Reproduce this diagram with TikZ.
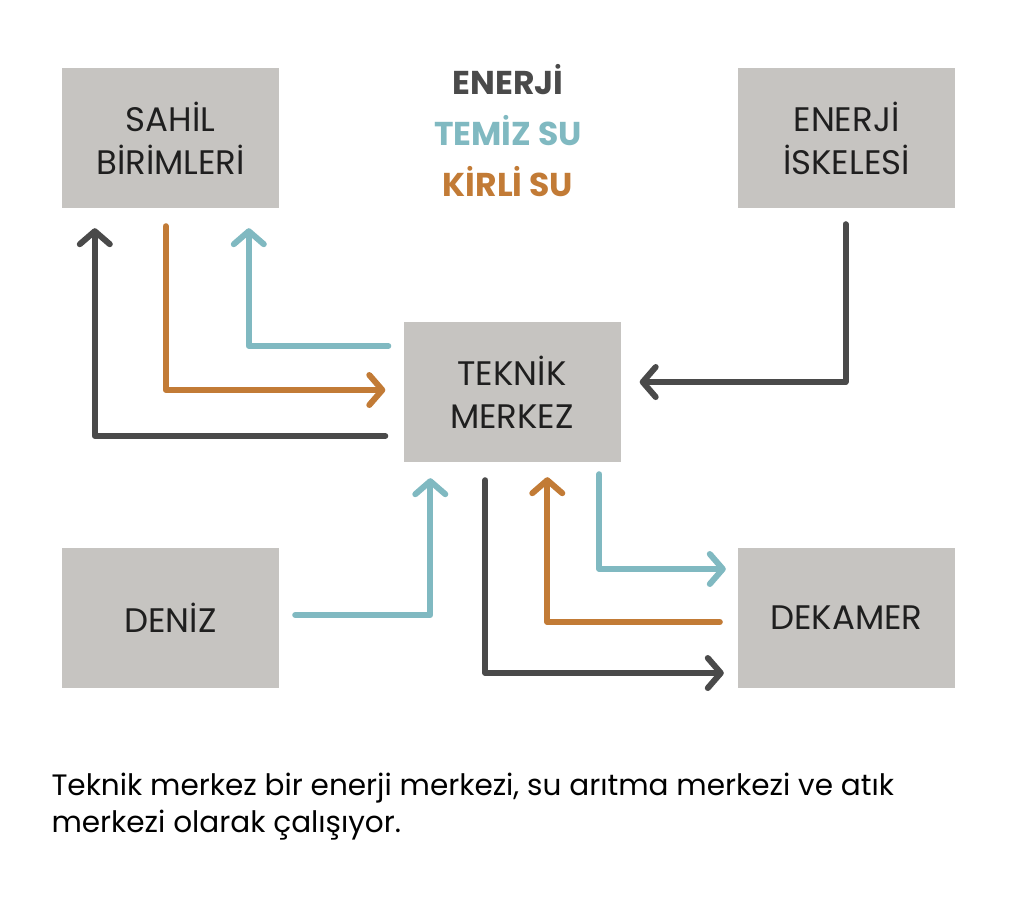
\documentclass[tikz,border=0pt]{standalone}
\usepackage{fontspec}
\setmainfont{Poppins}
\usetikzlibrary{arrows.meta}
\definecolor{boxgray}{HTML}{C6C4C1}
\definecolor{energydark}{HTML}{4A4A4A}
\definecolor{cleanteal}{HTML}{80B9C1}
\definecolor{dirtyorange}{HTML}{C27B36}
\tikzset{
  box/.style={fill=boxgray, minimum width=217pt, minimum height=140pt, inner sep=0pt, align=center, text=black!88, font=\fontsize{34}{43}\selectfont},
  flow/.style={line width=6pt, line cap=round, line join=round, -{Straight Barb[length=13pt,width=30pt,round]}},
  energyline/.style={flow, draw=energydark},
  cleanline/.style={flow, draw=cleanteal},
  dirtyline/.style={flow, draw=dirtyorange}
}
\begin{document}
\begin{tikzpicture}[x=1pt, y=-1pt]
        \useasboundingbox (0,0) rectangle (1024,903);

        % Kutular
        \node[box] (sahil) at (170.5,138) {SAHİL\\BİRİMLERİ};
        \node[box] (iskele) at (846.5,138) {ENERJİ\\İSKELESİ};
        \node[box] (teknik) at (512,392) {TEKNİK\\MERKEZ};
        \node[box] (deniz) at (170.5,618) {DENİZ};
        \node[box] (dekamer) at (846.5,618) {DEKAMER};

        % Lejant
        \node[align=center, font=\bfseries\fontsize{33}{51}\selectfont] (legend) at (508,131) {
            \textcolor{energydark}{ENERJİ}\\
            \textcolor{cleanteal}{TEMİZ SU}\\
            \textcolor{dirtyorange}{KİRLİ SU}
        };

        % Açıklama
        \node[anchor=base west, align=left, font=\fontsize{29.5}{37}\selectfont] (caption) at (48,832) {
            Teknik merkez bir enerji merkezi, su arıtma merkezi ve atık\\
            merkezi olarak çalışıyor.
        };

        % Oklar
        \draw[energyline] ([shift={(-18,44)}]teknik.west) -| ([shift={(33,20)}]sahil.south west);
        \draw[dirtyline] ([shift={(104,18)}]sahil.south west) |- ([shift={(-18,-2)}]teknik.west);
        \draw[cleanline] ([shift={(-15,-46)}]teknik.west) -| ([shift={(187,20)}]sahil.south west);
        \draw[energyline] ([shift={(-1,16)}]iskele.south) |- ([shift={(19,-10)}]teknik.east);
        \draw[cleanline] ([shift={(16,-3)}]deniz.east) -| ([shift={(27,16)}]teknik.south west);
        \draw[energyline] ([shift={(82,18)}]teknik.south west) |- ([shift={(-14,55)}]dekamer.west);
        \draw[dirtyline] ([shift={(-18,4)}]dekamer.west) -| ([shift={(144,15)}]teknik.south west);
        \draw[cleanline] ([shift={(196,12)}]teknik.south west) |- ([shift={(-12,-49)}]dekamer.west);
    \end{tikzpicture}
\end{document}
